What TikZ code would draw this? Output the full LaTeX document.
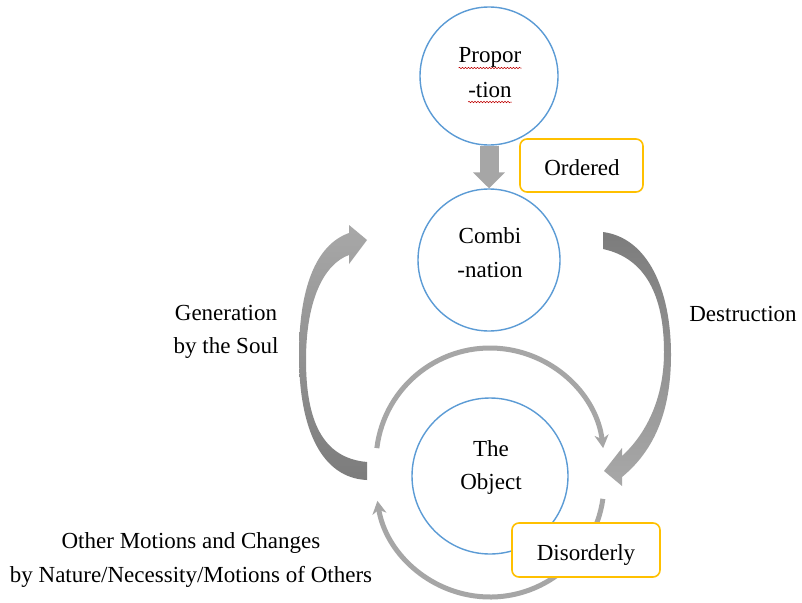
\documentclass[tikz,border=0pt]{standalone}
\usepackage{fontspec}
\setmainfont{Liberation Serif}
\usetikzlibrary{arrows.meta,decorations.pathmorphing}
\definecolor{cblue}{HTML}{5B9BD5}
\definecolor{cgold}{HTML}{FFC000}
\definecolor{cgray}{HTML}{A6A6A6}
\definecolor{cdark}{HTML}{7C7C7C}
\definecolor{clight}{HTML}{A8A8A8}
\definecolor{cred}{HTML}{C00000}
\begin{document}
\begin{tikzpicture}[x=1pt,y=-1pt,
  orb/.style={circle,draw=cblue,line width=1.4pt,fill=white,inner sep=0pt},
  lbl/.style={anchor=base,font=\fontsize{23}{34}\selectfont,inner sep=0pt},
  tag/.style={draw=cgold,line width=1.6pt,rounded corners=7pt,fill=white,inner sep=0pt},
  cyc/.style={draw=cgray,line width=5pt,-{Stealth[length=13pt,width=14pt,inset=4pt]}},
  squig/.style={draw=cred,line width=0.5pt,decorate,decoration={snake,amplitude=0.7pt,segment length=3pt}},
]
\useasboundingbox[fill=white] (0,0) rectangle (802,602);

% small cycle arcs around the object
\draw[cyc] (490,462) ++(187:114) arc[start angle=187,end angle=353,radius=114];
\draw[cyc] (490,483) ++(8:114) arc[start angle=8,end angle=171,radius=114];

% big curved arrow: generation by the soul
\shade[top color=clight,bottom color=cdark]
  (367,462) .. controls (322,458) and (306,420) .. (306,360)
  .. controls (306,300) and (324,264) .. (349,255)
  -- (349,264) -- (367,240) -- (349,225) -- (349,233)
  .. controls (315,245) and (299,290) .. (299,355)
  .. controls (299,430) and (322,478) .. (367,480) -- cycle;

% big curved arrow: destruction
\shade[top color=cdark,bottom color=clight]
  (603,232) .. controls (648,238) and (671,290) .. (671,355)
  .. controls (671,410) and (655,450) .. (622,477)
  -- (622,486) -- (604,471) -- (622,448) -- (622,456)
  .. controls (645,435) and (664,400) .. (664,352)
  .. controls (664,295) and (645,258) .. (603,249) -- cycle;

% circles
\node[orb,minimum size=138pt] (prop) at (489,76) {};
\node[orb,minimum size=142pt] (comb) at (489,260) {};
\node[orb,minimum size=156pt] (obj) at (490,476) {};

% block arrow proportion -> combination
\draw[draw=cgray,line width=19pt,-{Triangle[length=16pt,width=31pt]}] (prop) -- (comb);

% boxes
\node[tag,minimum width=123pt,minimum height=53pt] (ord) at (581.5,165.5) {};
\node[tag,minimum width=148pt,minimum height=54pt] (dis) at (586,550) {};

% texts
\node[lbl] (tprop1) at (490,63) {Propor};
\node[lbl] (tprop2) at (490,97) {-tion};
\draw[squig] ([yshift=-5pt]tprop1.base west) -- ([yshift=-5pt]tprop1.base east);
\draw[squig] ([yshift=-5pt]tprop2.base west) -- ([yshift=-5pt]tprop2.base east);
\node[lbl] (tcomb1) at (490,243) {Combi};
\node[lbl] (tcomb2) at (490,277) {-nation};
\node[lbl] (tobj1) at (491,456) {The};
\node[lbl] (tobj2) at (491,489) {Object};
\node[lbl] (tord) at (582,175) {Ordered};
\node[lbl] (tdis) at (586,560) {Disorderly};
\node[lbl] (gen1) at (226,320) {Generation};
\node[lbl] (gen2) at (226,353) {by the Soul};
\node[lbl] (dest) at (743,321) {Destruction};
\node[lbl] (oth1) at (191,548) {Other Motions and Changes};
\node[lbl] (oth2) at (191,582) {by Nature/Necessity/Motions of Others};
\end{tikzpicture}
\end{document}
